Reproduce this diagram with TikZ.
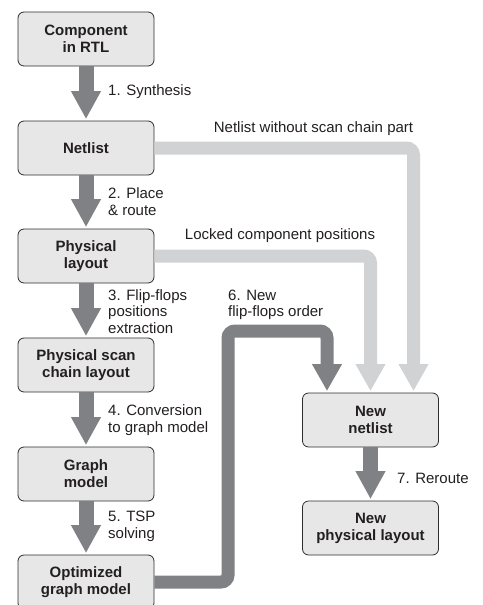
\documentclass[tikz,border=0pt]{standalone}
\usepackage{fontspec}
\setmainfont{Liberation Sans}
\usetikzlibrary{arrows.meta}
\definecolor{darkarrow}{RGB}{128,129,133}
\definecolor{lightarrow}{RGB}{209,210,212}
\definecolor{boxfill}{RGB}{231,231,232}
\definecolor{boxline}{RGB}{45,45,45}
\definecolor{txt}{RGB}{35,31,32}
\tikzset{
  box/.style={draw=boxline, line width=0.8pt, fill=boxfill, rounded corners=6pt,
    minimum width=136pt, minimum height=54pt, align=center, inner sep=0pt,
    text=txt, font=\bfseries\fontsize{15}{17}\selectfont},
  steparrow/.style={draw=darkarrow, line width=15pt,
    -{Triangle[width=28pt,length=28pt]}, shorten >=1.5pt},
  routedark/.style={draw=darkarrow, line width=13pt, rounded corners=7pt,
    -{Triangle[width=28pt,length=27pt]}, shorten >=1.5pt},
  routelight/.style={draw=lightarrow, line width=13pt, rounded corners=7pt,
    -{Triangle[width=28pt,length=27pt]}, shorten >=1.5pt},
  lbl/.style={font=\fontsize{15}{16.5}\selectfont, align=left, inner sep=0pt, text=txt}
}
\begin{document}
\begin{tikzpicture}[x=1pt,y=-1pt]
\useasboundingbox (0,0) rectangle (482,605);
% boxes
\node[box] (comp) at (86,39) {Component\\in RTL};
\node[box] (net) at (86,148) {Netlist};
\node[box] (phys) at (86,256) {Physical\\layout};
\node[box] (scan) at (86,365) {Physical scan\\chain layout};
\node[box] (graph) at (86,474) {Graph\\model};
\node[box] (opt) at (86,582) {Optimized\\graph model};
\node[box] (newnet) at (370.5,420) {New\\netlist};
\node[box] (newphys) at (370.5,528) {New\\physical layout};
% step arrows
\draw[steparrow] (comp.south) -- (net.north);
\draw[steparrow] (net.south) -- (phys.north);
\draw[steparrow] (phys.south) -- (scan.north);
\draw[steparrow] (scan.south) -- (graph.north);
\draw[steparrow] (graph.south) -- (opt.north);
\draw[steparrow] (newnet.south) -- (newphys.north);
% routed arrows
\coordinate (bend6) at (228,331);
\draw[routelight] (net.east) -| ([xshift=43pt]newnet.north);
\draw[routelight] (phys.east) -| (newnet.north);
\draw[routedark] (opt.east) -| (bend6) -| ([xshift=-43.5pt]newnet.north);
% labels
\node[lbl, anchor=west] (l1) at (108,92) {1. Synthesis};
\node[lbl, anchor=west] (l2) at (108,201.5) {2. Place\\\& route};
\node[lbl, anchor=west] (l3) at (108,311.5) {3. Flip-flops\\positions\\extraction};
\node[lbl, anchor=west] (l4) at (108,420) {4. Conversion\\to graph model};
\node[lbl, anchor=west] (l5) at (108,526.5) {5. TSP\\solving};
\node[lbl, anchor=west] (l6) at (228,305) {6. New\\flip-flops order};
\node[lbl, anchor=west] (l7) at (397,478) {7. Reroute};
\node[lbl] (lnet) at (313.5,129) {Netlist without scan chain part};
\node[lbl] (llock) at (280,236) {Locked component positions};
\end{tikzpicture}
\end{document}
